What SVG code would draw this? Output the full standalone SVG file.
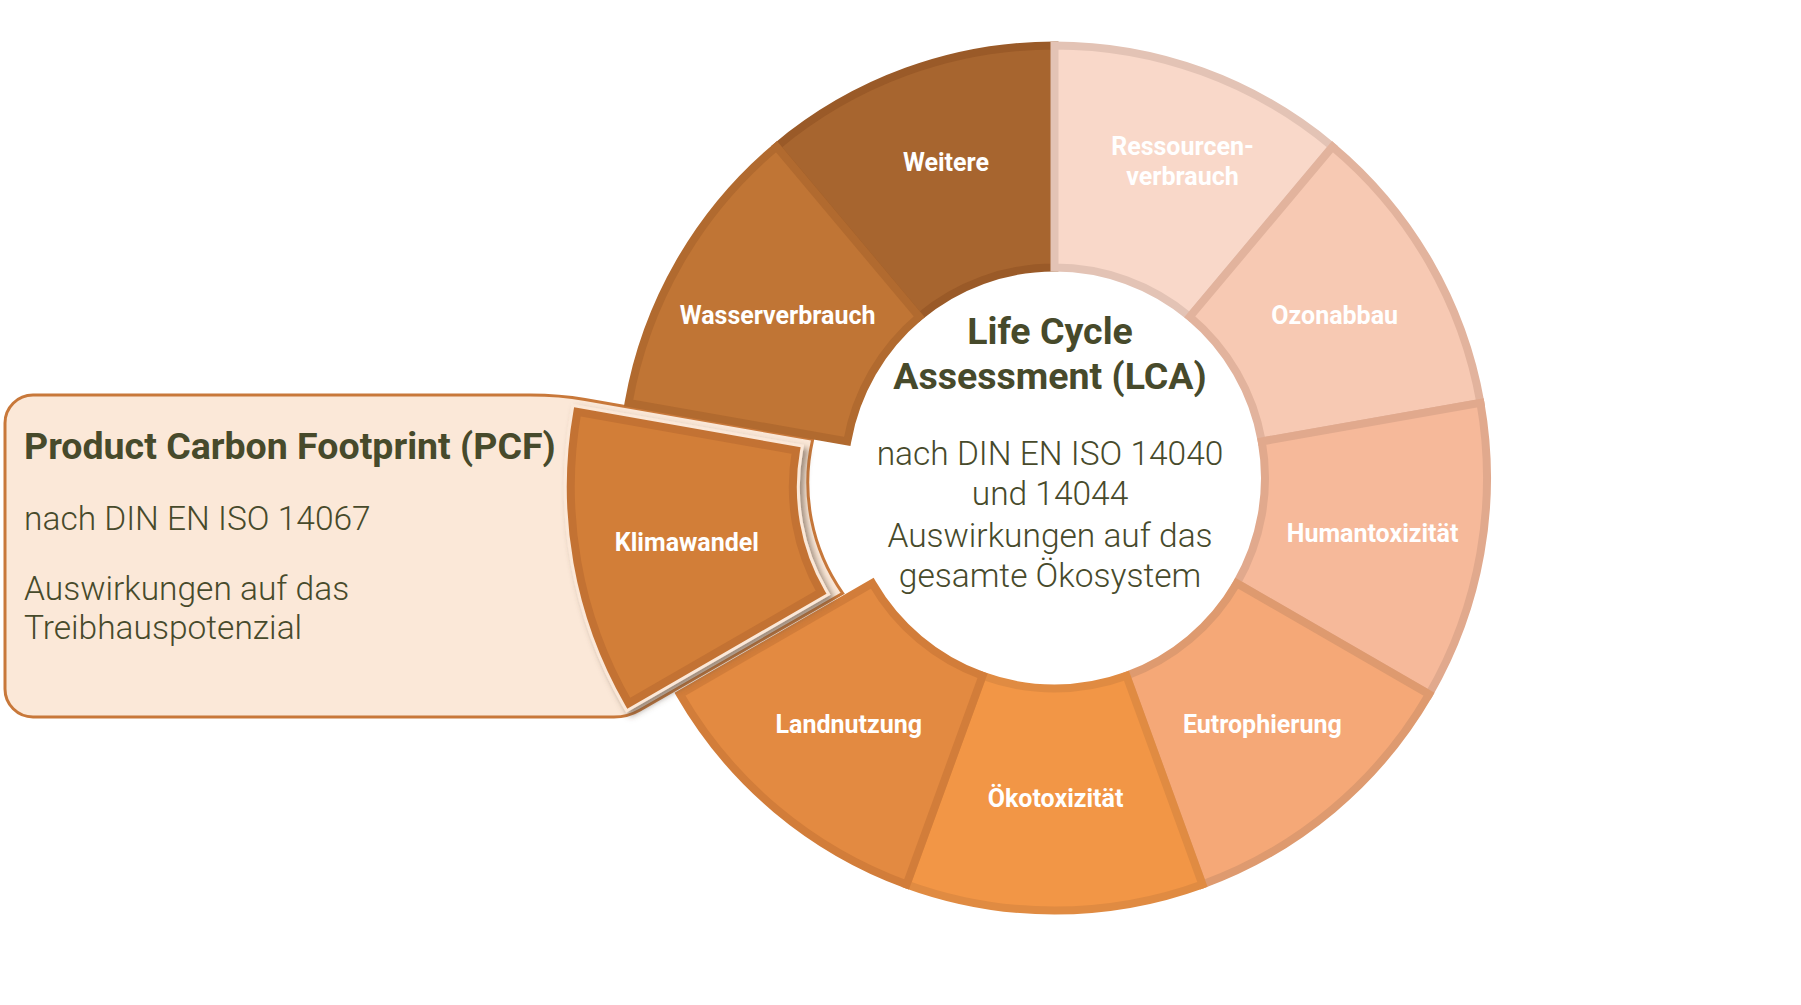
<svg xmlns="http://www.w3.org/2000/svg" width="1801" height="1005" viewBox="0 0 1801 1005">
  <defs>
    <style>
      .seg { stroke-width: 8; stroke-linejoin: miter; }
      .lbl { font-family: Roboto, "Liberation Sans", sans-serif; font-weight: 700; font-size: 25px; fill: #FFFFFF; text-anchor: middle; }
      .title { font-family: Roboto, "Liberation Sans", sans-serif; font-weight: 700; font-size: 37.5px; fill: #474A2B; }
      .light { font-family: Roboto, "Liberation Sans", sans-serif; font-weight: 300; font-size: 33.5px; fill: #474A2B; }
    </style>
    <filter id="shadow" x="-20%" y="-20%" width="140%" height="140%">
      <feDropShadow dx="4" dy="4" stdDeviation="3" flood-color="#5e4c3a" flood-opacity="0.6"/>
    </filter>
  </defs>
  <rect x="0" y="0" width="1801" height="1005" fill="#FFFFFF"/>

  <g id="pcf-callout">
    <path d="M 33 395 L 530 395 Q 560 395 585 399.5 L 812.7 439.3 A 193 193 0 0 0 842.7 593.3 L 640 710 Q 628 717 614 717 L 33 717 A 28 28 0 0 1 5 689 L 5 423 A 28 28 0 0 1 33 395 Z" fill="#FBE8D8" stroke="#C8783A" stroke-width="3"/>
    <text class="title" x="24" y="459">Product Carbon Footprint (PCF)</text>
    <text class="light" x="24" y="530">nach DIN EN ISO 14067</text>
    <text class="light" x="24" y="600">Auswirkungen auf das</text>
    <text class="light" x="24" y="639">Treibhauspotenzial</text>
  </g>

  <g id="ring">
    <g id="node-weitere">
      <path class="seg" d="M 776.49 146.69 A 432.5 432.5 0 0 1 1054.5 45.5 L 1054.5 267.5 A 210.5 210.5 0 0 0 919.19 316.75 Z" fill="#A7652F" stroke="#9A5A28"/>
      <text class="lbl" x="946" y="170.5">Weitere</text>
    </g>
    <g id="node-ressourcenverbrauch">
      <path class="seg" d="M 1054.5 45.5 A 432.5 432.5 0 0 1 1332.51 146.69 L 1189.81 316.75 A 210.5 210.5 0 0 0 1054.5 267.5 Z" fill="#F9D8C9" stroke="#E3C3B5"/>
      <text class="lbl" x="1182.5" y="155">Ressourcen-</text>
      <text class="lbl" x="1182.5" y="185">verbrauch</text>
    </g>
    <g id="node-ozonabbau">
      <path class="seg" d="M 1332.51 146.69 A 432.5 432.5 0 0 1 1480.43 402.90 L 1261.80 441.45 A 210.5 210.5 0 0 0 1189.81 316.75 Z" fill="#F7C9B3" stroke="#E2B39D"/>
      <text class="lbl" x="1334.7" y="324">Ozonabbau</text>
    </g>
    <g id="node-humantoxizitaet">
      <path class="seg" d="M 1480.43 402.90 A 432.5 432.5 0 0 1 1429.06 694.25 L 1236.80 583.25 A 210.5 210.5 0 0 0 1261.80 441.45 Z" fill="#F6B99A" stroke="#E1A98D"/>
      <text class="lbl" x="1372.6" y="542">Humantoxizität</text>
    </g>
    <g id="node-eutrophierung">
      <path class="seg" d="M 1429.06 694.25 A 432.5 432.5 0 0 1 1202.42 884.42 L 1126.49 675.80 A 210.5 210.5 0 0 0 1236.80 583.25 Z" fill="#F5A877" stroke="#DE9A6F"/>
      <text class="lbl" x="1262.3" y="732.5">Eutrophierung</text>
    </g>
    <g id="node-oekotoxizitaet">
      <path class="seg" d="M 1202.42 884.42 A 432.5 432.5 0 0 1 906.58 884.42 L 982.51 675.80 A 210.5 210.5 0 0 0 1126.49 675.80 Z" fill="#F29646" stroke="#E08B42"/>
      <text class="lbl" x="1055.6" y="807">Ökotoxizität</text>
    </g>
    <g id="node-landnutzung">
      <path class="seg" d="M 906.58 884.42 A 432.5 432.5 0 0 1 679.94 694.25 L 872.20 583.25 A 210.5 210.5 0 0 0 982.51 675.80 Z" fill="#E38A41" stroke="#D27D3A"/>
      <text class="lbl" x="848.8" y="732.5">Landnutzung</text>
    </g>
    <g id="node-wasserverbrauch">
      <path class="seg" d="M 628.57 402.90 A 432.5 432.5 0 0 1 776.49 146.69 L 919.19 316.75 A 210.5 210.5 0 0 0 847.20 441.45 Z" fill="#C07535" stroke="#B16A2F"/>
      <text class="lbl" x="777.6" y="324">Wasserverbrauch</text>
    </g>
  </g>

  <g id="node-klimawandel">
    <g transform="translate(-51.2 9.03)">
      <path d="M 679.94 694.25 A 432.5 432.5 0 0 1 628.57 402.90 L 847.20 441.45 A 210.5 210.5 0 0 0 872.20 583.25 Z" fill="#FBE8D8" stroke="#FBE8D8" stroke-width="14" filter="url(#shadow)"/>
      <path class="seg" d="M 679.94 694.25 A 432.5 432.5 0 0 1 628.57 402.90 L 847.20 441.45 A 210.5 210.5 0 0 0 872.20 583.25 Z" fill="#D27E38" stroke="#C37233"/>
    </g>
    <text class="lbl" x="686.9" y="550.5">Klimawandel</text>
  </g>

  <g id="lca-center">
    <text class="title" text-anchor="middle" x="1050" y="344">Life Cycle</text>
    <text class="title" text-anchor="middle" x="1050" y="389">Assessment (LCA)</text>
    <text class="light" text-anchor="middle" x="1050" y="465">nach DIN EN ISO 14040</text>
    <text class="light" text-anchor="middle" x="1050" y="505">und 14044</text>
    <text class="light" text-anchor="middle" x="1050" y="546.5">Auswirkungen auf das</text>
    <text class="light" text-anchor="middle" x="1050" y="586.5">gesamte Ökosystem</text>
  </g>
</svg>
